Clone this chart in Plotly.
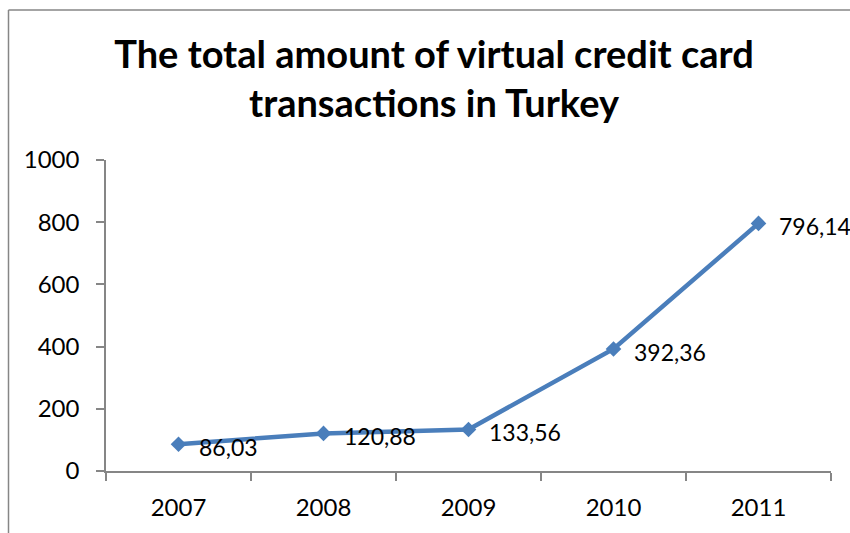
import plotly.graph_objects as go

years = ["2007", "2008", "2009", "2010", "2011"]
amounts = [86.03, 120.88, 133.56, 392.36, 796.14]
y_ticks = [0, 200, 400, 600, 800, 1000]

labels = [f"{v:.2f}".replace(".", ",") for v in amounts]

W, H = 850, 533
L, R, T, B = 106, 19, 160, 60
pw, ph = W - L - R, H - T - B

def px_x(p):
    return (p - L) / pw

def px_y(p):
    return (H - B - p) / ph

blue = "#4A7EBB"
axis_grey = "#868686"
font = "Lato"

fig = go.Figure()
fig.add_trace(go.Scatter(
    x=years, y=amounts,
    mode="lines+markers",
    line=dict(color=blue, width=4.5),
    marker=dict(symbol="diamond", size=12, color=blue),
    cliponaxis=False,
    showlegend=False,
    hoverinfo="skip",
))

# value labels to the right of each point, decimal comma
annotations = [
    dict(x=i, y=v, xref="x", yref="y", text=lab, showarrow=False,
         xanchor="left", yanchor="middle", xshift=18, yshift=-3,
         font=dict(family=font, size=23, color="#000000"))
    for i, (v, lab) in enumerate(zip(amounts, labels))
]

fig.update_layout(
    width=W, height=H,
    margin=dict(l=L, r=R, t=T, b=B),
    paper_bgcolor="white",
    plot_bgcolor="white",
    font=dict(family=font, color="#000000"),
    title=dict(
        text="<b>The total amount of virtual credit card<br>transactions in Turkey</b>",
        font=dict(family=font, size=38, color="#000000"),
        x=px_x(434), xref="paper", xanchor="center",
        y=1 - 68 / H, yref="container", yanchor="middle",
    ),
    xaxis=dict(
        type="category",
        range=[-0.5, 4.5],
        showline=True, linecolor=axis_grey, linewidth=1.5,
        ticks="outside", tickson="boundaries", ticklen=8,
        tickcolor=axis_grey, tickwidth=1.5,
        showgrid=False, zeroline=False,
        tickfont=dict(family=font, size=24),
        ticklabelstandoff=14,
    ),
    yaxis=dict(
        range=[0, 1000],
        tickvals=y_ticks,
        showline=True, linecolor=axis_grey, linewidth=1.5,
        ticks="outside", ticklen=8, tickcolor=axis_grey, tickwidth=1.5,
        showgrid=False, zeroline=False,
        tickfont=dict(family=font, size=24),
        ticklabelstandoff=12,
    ),
    annotations=annotations,
    shapes=[
        dict(type="line", xref="paper", yref="paper",
             x0=px_x(8.5), x1=px_x(870), y0=px_y(9), y1=px_y(9),
             line=dict(color=axis_grey, width=1.5)),
        dict(type="line", xref="paper", yref="paper",
             x0=px_x(8.5), x1=px_x(8.5), y0=px_y(9), y1=px_y(560),
             line=dict(color=axis_grey, width=1.5)),
    ],
)

fig.write_html("out.html")
